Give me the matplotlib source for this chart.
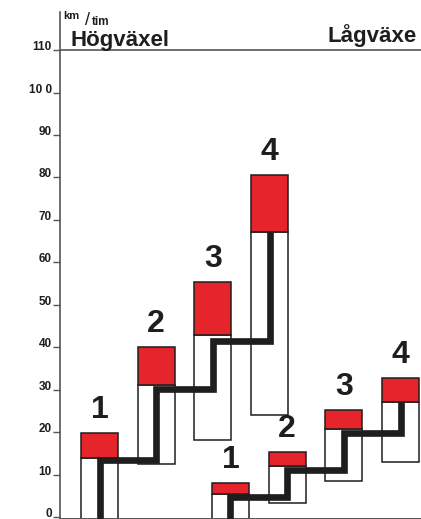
import numpy as np
import matplotlib.pyplot as plt
from matplotlib.transforms import blended_transform_factory

plt.rcParams['font.family'] = ['Liberation Sans', 'DejaVu Sans']

# speed ranges per gear (km/tim)
gears = ["1", "2", "3", "4"]
high_top = [19.8, 40.0, 55.4, 80.6]      # max speed
high_red = [13.9, 31.1, 42.9, 67.1]      # start of red zone
high_low = [-1.0, 12.5, 18.1, 24.0]      # lowest usable speed
high_shift = [13.4, 30.2, 41.5, 67.1]    # shift points (staircase)

low_top = [8.0, 15.3, 25.2, 32.7]
low_red = [5.5, 12.0, 20.7, 27.1]
low_low = [-1.0, 3.3, 8.5, 13.0]
low_shift = [4.6, 11.1, 19.8, 27.1]

yticks = [0, 10, 20, 30, 40, 50, 60, 70, 80, 90, 100, 110]
ytick_labels = ["0", "10", "20", "30", "40", "50", "60", "70", "80", "90", "10 0", "110"]

red = "#e5242b"
ink = "#1e1e1e"

fig = plt.figure(figsize=(4.21, 5.19), dpi=100)
ax = fig.add_axes([60 / 421, 0, 361 / 421, 1])
ax.set_xlim(-0.697, 5.67)
ax.set_ylim(-0.47, 121.8)

pos_high = np.arange(4)
pos_low = np.arange(4) + 2.31
w = 0.65


def draw_group(pos, top, redb, low, shift):
    top, redb, low = np.array(top), np.array(redb), np.array(low)
    ax.bar(pos, redb - low, w, bottom=low, color="white", edgecolor=ink, linewidth=1.1, zorder=2)
    ax.bar(pos, top - redb, w, bottom=redb, color=red, edgecolor=ink, linewidth=1.1, zorder=2)
    xs, ys = [pos[0]], [-1]
    for i in range(len(pos)):
        xs += [pos[i]]
        ys += [shift[i]]
        if i + 1 < len(pos):
            xs += [pos[i + 1]]
            ys += [shift[i]]
    ax.plot(xs, ys, color=ink, lw=4.8, solid_joinstyle="miter", solid_capstyle="butt", zorder=3)
    for p, t, g in zip(pos, top, gears):
        ax.annotate(g, (p, t), xytext=(0, 6), textcoords="offset points", ha="center",
                    va="bottom", fontsize=23, fontweight="bold", color=ink)


draw_group(pos_high, high_top, high_red, high_low, high_shift)
draw_group(pos_low, low_top, low_red, low_low, low_shift)

# axes frame
for s in ["top", "right"]:
    ax.spines[s].set_visible(False)
ax.spines["left"].set_bounds(-0.5, 119)
ax.spines["left"].set_color("#555555")
ax.spines["left"].set_linewidth(1.2)
ax.spines["bottom"].set_color("#555555")
ax.spines["bottom"].set_linewidth(1.4)
ax.axhline(110, color="#555555", lw=1.2, zorder=1)

ax.set_xticks([])
ax.set_yticks(yticks)
ax.set_yticklabels([])
ax.tick_params(axis="y", direction="out", length=5, width=1, color="#555555")
tr = blended_transform_factory(ax.transAxes, ax.transData)
for v, lab in zip(yticks, ytick_labels):
    ax.annotate(lab, (0, v), xycoords=tr, xytext=(-6, 0), textcoords="offset points",
                ha="right", va="baseline", fontsize=8.5, fontweight="bold", color=ink)

ax.text(0.030, 111, "Högväxel", transform=tr, fontsize=16, fontweight="bold", color=ink, va="baseline")
ax.text(0.742, 111.8, "Lågväxe", transform=tr, fontsize=16, fontweight="bold", color=ink, va="baseline")
ax.text(0.008, 117.4, "km", transform=tr, fontsize=8, fontweight="bold", color=ink, va="baseline")
ax.text(0.068, 115.8, "/", transform=tr, fontsize=13, color=ink, va="baseline")
ax.text(0.088, 115.9, "tim", transform=tr, fontsize=8.5, fontweight="bold", color=ink, va="baseline")

fig.savefig("out.png", dpi=100)
